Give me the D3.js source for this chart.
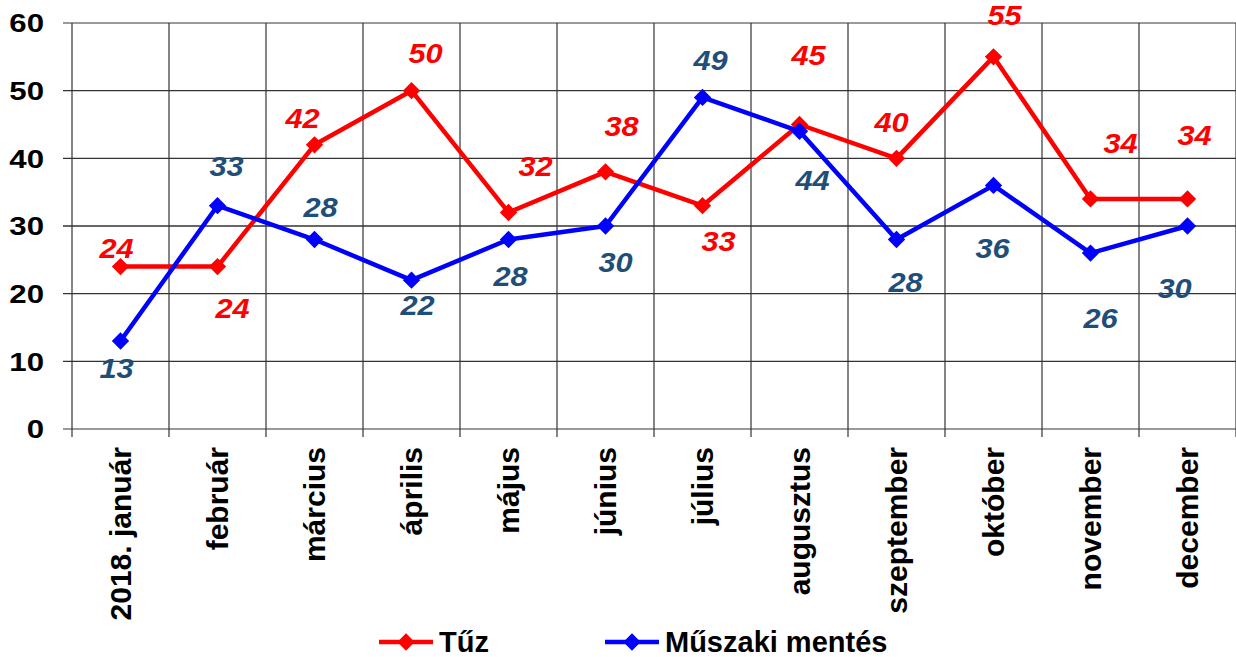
<!DOCTYPE html>
<html>
<head>
<meta charset="utf-8">
<script src="https://cdn.jsdelivr.net/npm/d3@7"></script>
<style>
  body { margin: 0; background: #fff; }
  svg { display: block; font-family: Arial, "Liberation Sans", sans-serif; }
</style>
</head>
<body>
<svg width="1236" height="657"></svg>
<script>
const months = ["2018. január", "február", "március", "április", "május", "június",
                "július", "augusztus", "szeptember", "október", "november", "december"];
const fire = [24, 24, 42, 50, 32, 38, 33, 45, 40, 55, 34, 34];
const rescue = [13, 33, 28, 22, 28, 30, 49, 44, 28, 36, 26, 30];
const yTicks = [0, 10, 20, 30, 40, 50, 60];
const seriesNames = ["Tűz", "Műszaki mentés"];

// label nudges (px) so the numbers sit where the original put them
const fireLabelShift = [[-4,-19],[15,41],[-12,-27],[14,-38],[27,-47],[16,-46],[16,35],[9,-70],[-5,-36],[11,-42],[30,-56],[7,-64]];
const rescueLabelShift = [[-4,27],[9,-40],[6,-33],[6,25],[2,36],[10,36],[8,-38],[13,49],[9,42],[-1,63],[10,65],[-13,62]];

const drawChart = () => {
    const svg = d3.select("svg");
    const left = 72, right = 1236, top = 23, bottom = 429;

    const x = d3.scaleBand().domain(months).range([left, right]);
    const y = d3.scaleLinear().domain([0, 60]).range([bottom, top]);

    // horizontal grid + tick stubs
    svg.append("g").selectAll("line")
        .data(yTicks)
        .join("line")
        .attr("x1", left - 9).attr("x2", right)
        .attr("y1", d => y(d)).attr("y2", d => y(d))
        .attr("stroke", d => (d === 0 || d === 60) ? "#777" : "#333")
        .attr("stroke-width", 1.4);

    // vertical grid, running a bit under the axis
    const edges = months.map(m => x(m)).concat([right]);
    svg.append("g").selectAll("line")
        .data(edges)
        .join("line")
        .attr("x1", d => d).attr("x2", d => d)
        .attr("y1", top).attr("y2", bottom + 8)
        .attr("stroke", "#333")
        .attr("stroke-width", 1.2);

    // y labels (the original is a bit stretched sideways)
    svg.append("g").selectAll("text")
        .data(yTicks)
        .join("text")
        .attr("transform", d => `translate(44,${y(d)}) scale(1.2,1)`)
        .attr("dy", "0.36em")
        .attr("text-anchor", "end")
        .attr("font-size", 26)
        .attr("font-weight", "bold")
        .text(d => d);

    // month labels, rotated
    svg.append("g").selectAll("text")
        .data(months)
        .join("text")
        .attr("transform", d => `translate(${x(d) + x.bandwidth() / 2},447) rotate(-90)`)
        .attr("dy", "0.36em")
        .attr("text-anchor", "end")
        .attr("font-size", 30)
        .attr("font-weight", "bold")
        .text(d => d);

    const cx = i => x(months[i]) + x.bandwidth() / 2;
    const line = d3.line().x((d, i) => cx(i)).y(d => y(d));
    const diamond = d3.symbol().type(d3.symbolSquare).size(150);

    const series = [
        { values: fire, color: "#ff0000", labelColor: "#ff0000", shift: fireLabelShift },
        { values: rescue, color: "#0000ff", labelColor: "#1f4e79", shift: rescueLabelShift }
    ];

    series.forEach(s => {
        svg.append("path")
            .datum(s.values)
            .attr("d", line)
            .attr("fill", "none")
            .attr("stroke", s.color)
            .attr("stroke-width", 4.5)
            .attr("stroke-linejoin", "round");

        svg.append("g").selectAll("path")
            .data(s.values)
            .join("path")
            .attr("d", diamond)
            .attr("transform", (d, i) => `translate(${cx(i)},${y(d)}) rotate(45)`)
            .attr("fill", s.color);
    });

    series.forEach(s => {
        svg.append("g").selectAll("text")
            .data(s.values)
            .join("text")
            .attr("transform", (d, i) => `translate(${cx(i) + s.shift[i][0]},${y(d) + s.shift[i][1]}) scale(1.1,1)`)
            .attr("dy", "0.36em")
            .attr("text-anchor", "middle")
            .attr("font-size", 28)
            .attr("font-weight", "bold")
            .attr("font-style", "italic")
            .attr("fill", s.labelColor)
            .text(d => d);
    });

    // legend
    const legendX = [379, 605];
    const legend = svg.append("g").selectAll("g")
        .data(series)
        .join("g")
        .attr("transform", (d, i) => `translate(${legendX[i]},642)`);
    legend.append("line")
        .attr("x1", 0).attr("x2", 54)
        .attr("stroke", d => d.color)
        .attr("stroke-width", 4.5);
    legend.append("path")
        .attr("d", diamond)
        .attr("transform", "translate(27,0) rotate(45)")
        .attr("fill", d => d.color);
    legend.append("text")
        .attr("x", 60)
        .attr("dy", "0.36em")
        .attr("font-size", 29)
        .attr("font-weight", "bold")
        .text((d, i) => seriesNames[i]);
}
drawChart();
</script>
</body>
</html>
